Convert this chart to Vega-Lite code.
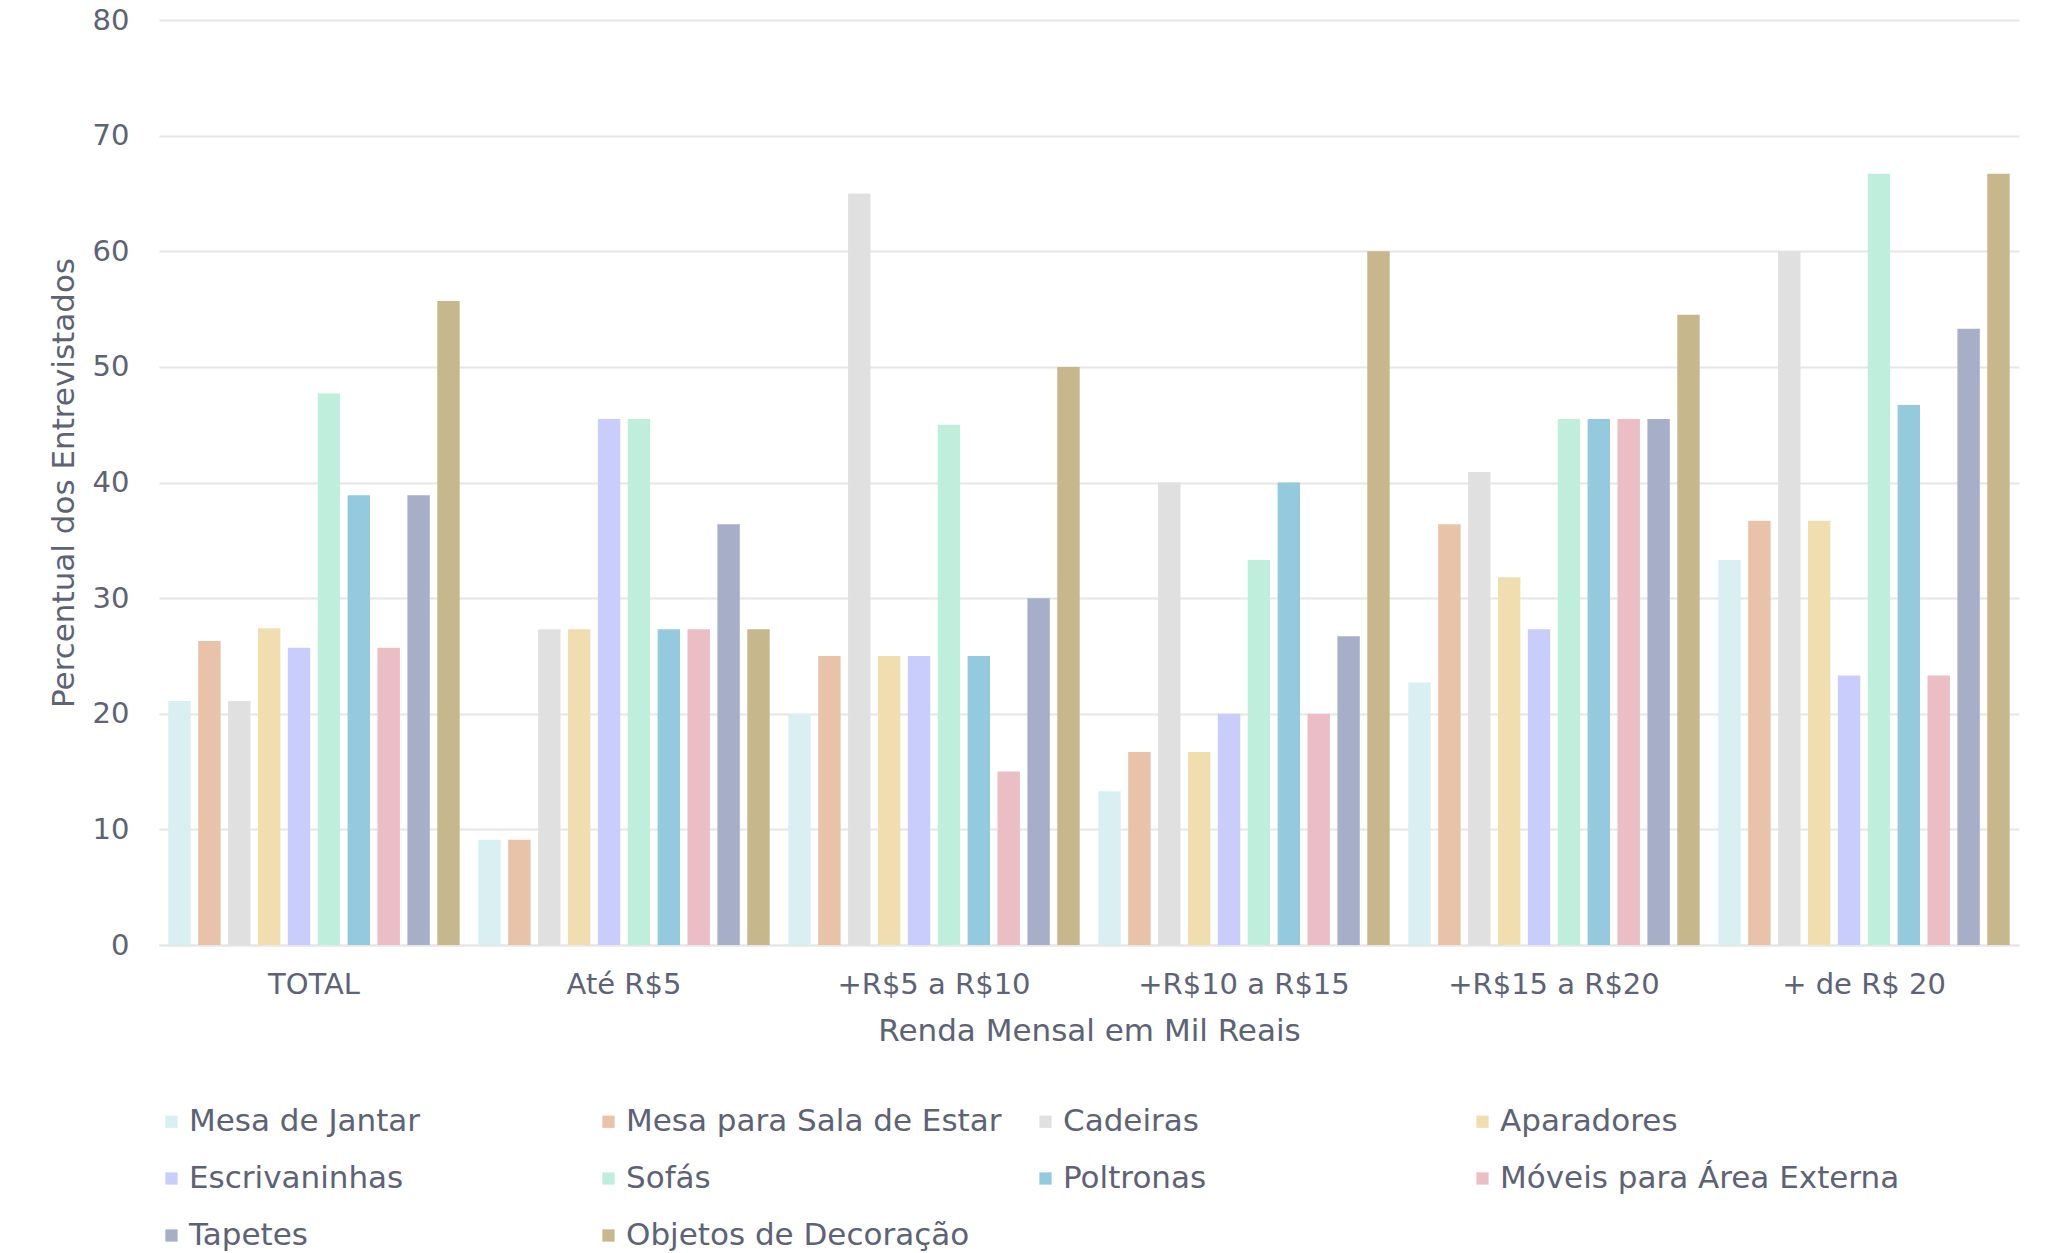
{
  "$schema": "https://vega.github.io/schema/vega-lite/v6.json",
  "autosize": "none",
  "width": 1860,
  "height": 925,
  "padding": {"left": 159, "top": 20, "right": 26, "bottom": 308},
  "background": "white",
  "config": {
    "font": "DejaVu Sans",
    "view": {"stroke": null},
    "axis": {"labelColor": "#5d6274", "titleColor": "#5d6274", "labelFont": "DejaVu Sans", "titleFont": "DejaVu Sans"},
    "legend": {"labelColor": "#5d6274", "labelFont": "DejaVu Sans"}
  },
  "data": {
    "values": [
      {"renda": "TOTAL", "item": "Mesa de Jantar", "valor": 21.1},
      {"renda": "TOTAL", "item": "Mesa para Sala de Estar", "valor": 26.3},
      {"renda": "TOTAL", "item": "Cadeiras", "valor": 21.1},
      {"renda": "TOTAL", "item": "Aparadores", "valor": 27.4},
      {"renda": "TOTAL", "item": "Escrivaninhas", "valor": 25.7},
      {"renda": "TOTAL", "item": "Sofás", "valor": 47.7},
      {"renda": "TOTAL", "item": "Poltronas", "valor": 38.9},
      {"renda": "TOTAL", "item": "Móveis para Área Externa", "valor": 25.7},
      {"renda": "TOTAL", "item": "Tapetes", "valor": 38.9},
      {"renda": "TOTAL", "item": "Objetos de Decoração", "valor": 55.7},
      {"renda": "Até R$5", "item": "Mesa de Jantar", "valor": 9.1},
      {"renda": "Até R$5", "item": "Mesa para Sala de Estar", "valor": 9.1},
      {"renda": "Até R$5", "item": "Cadeiras", "valor": 27.3},
      {"renda": "Até R$5", "item": "Aparadores", "valor": 27.3},
      {"renda": "Até R$5", "item": "Escrivaninhas", "valor": 45.5},
      {"renda": "Até R$5", "item": "Sofás", "valor": 45.5},
      {"renda": "Até R$5", "item": "Poltronas", "valor": 27.3},
      {"renda": "Até R$5", "item": "Móveis para Área Externa", "valor": 27.3},
      {"renda": "Até R$5", "item": "Tapetes", "valor": 36.4},
      {"renda": "Até R$5", "item": "Objetos de Decoração", "valor": 27.3},
      {"renda": "+R$5 a R$10", "item": "Mesa de Jantar", "valor": 20},
      {"renda": "+R$5 a R$10", "item": "Mesa para Sala de Estar", "valor": 25},
      {"renda": "+R$5 a R$10", "item": "Cadeiras", "valor": 65},
      {"renda": "+R$5 a R$10", "item": "Aparadores", "valor": 25},
      {"renda": "+R$5 a R$10", "item": "Escrivaninhas", "valor": 25},
      {"renda": "+R$5 a R$10", "item": "Sofás", "valor": 45},
      {"renda": "+R$5 a R$10", "item": "Poltronas", "valor": 25},
      {"renda": "+R$5 a R$10", "item": "Móveis para Área Externa", "valor": 15},
      {"renda": "+R$5 a R$10", "item": "Tapetes", "valor": 30},
      {"renda": "+R$5 a R$10", "item": "Objetos de Decoração", "valor": 50},
      {"renda": "+R$10 a R$15", "item": "Mesa de Jantar", "valor": 13.3},
      {"renda": "+R$10 a R$15", "item": "Mesa para Sala de Estar", "valor": 16.7},
      {"renda": "+R$10 a R$15", "item": "Cadeiras", "valor": 40},
      {"renda": "+R$10 a R$15", "item": "Aparadores", "valor": 16.7},
      {"renda": "+R$10 a R$15", "item": "Escrivaninhas", "valor": 20},
      {"renda": "+R$10 a R$15", "item": "Sofás", "valor": 33.3},
      {"renda": "+R$10 a R$15", "item": "Poltronas", "valor": 40},
      {"renda": "+R$10 a R$15", "item": "Móveis para Área Externa", "valor": 20},
      {"renda": "+R$10 a R$15", "item": "Tapetes", "valor": 26.7},
      {"renda": "+R$10 a R$15", "item": "Objetos de Decoração", "valor": 60},
      {"renda": "+R$15 a R$20", "item": "Mesa de Jantar", "valor": 22.7},
      {"renda": "+R$15 a R$20", "item": "Mesa para Sala de Estar", "valor": 36.4},
      {"renda": "+R$15 a R$20", "item": "Cadeiras", "valor": 40.9},
      {"renda": "+R$15 a R$20", "item": "Aparadores", "valor": 31.8},
      {"renda": "+R$15 a R$20", "item": "Escrivaninhas", "valor": 27.3},
      {"renda": "+R$15 a R$20", "item": "Sofás", "valor": 45.5},
      {"renda": "+R$15 a R$20", "item": "Poltronas", "valor": 45.5},
      {"renda": "+R$15 a R$20", "item": "Móveis para Área Externa", "valor": 45.5},
      {"renda": "+R$15 a R$20", "item": "Tapetes", "valor": 45.5},
      {"renda": "+R$15 a R$20", "item": "Objetos de Decoração", "valor": 54.5},
      {"renda": "+ de R$ 20", "item": "Mesa de Jantar", "valor": 33.3},
      {"renda": "+ de R$ 20", "item": "Mesa para Sala de Estar", "valor": 36.7},
      {"renda": "+ de R$ 20", "item": "Cadeiras", "valor": 60},
      {"renda": "+ de R$ 20", "item": "Aparadores", "valor": 36.7},
      {"renda": "+ de R$ 20", "item": "Escrivaninhas", "valor": 23.3},
      {"renda": "+ de R$ 20", "item": "Sofás", "valor": 66.7},
      {"renda": "+ de R$ 20", "item": "Poltronas", "valor": 46.7},
      {"renda": "+ de R$ 20", "item": "Móveis para Área Externa", "valor": 23.3},
      {"renda": "+ de R$ 20", "item": "Tapetes", "valor": 53.3},
      {"renda": "+ de R$ 20", "item": "Objetos de Decoração", "valor": 66.7}
    ]
  },
  "mark": {"type": "bar"},
  "encoding": {
    "x": {
      "field": "renda",
      "type": "nominal",
      "sort": ["TOTAL", "Até R$5", "+R$5 a R$10", "+R$10 a R$15", "+R$15 a R$20", "+ de R$ 20"],
      "scale": {"paddingInner": 0.06, "paddingOuter": 0.03},
      "axis": {
        "title": "Renda Mensal em Mil Reais",
        "labelAngle": 0,
        "labelFontSize": 29,
        "labelLimit": 400,
        "titleFontSize": 31,
        "titleFontWeight": "normal",
        "labelPadding": 25,
        "titlePadding": 17,
        "ticks": false,
        "domain": true,
        "domainColor": "#e6e6e6",
        "domainWidth": 2
      }
    },
    "xOffset": {
      "field": "item",
      "type": "nominal",
      "sort": ["Mesa de Jantar", "Mesa para Sala de Estar", "Cadeiras", "Aparadores", "Escrivaninhas", "Sofás", "Poltronas", "Móveis para Área Externa", "Tapetes", "Objetos de Decoração"],
      "scale": {"paddingInner": 0.25, "paddingOuter": 0}
    },
    "y": {
      "field": "valor",
      "type": "quantitative",
      "scale": {"domain": [0, 80]},
      "axis": {
        "title": "Percentual dos Entrevistados",
        "values": [0, 10, 20, 30, 40, 50, 60, 70, 80],
        "labelFontSize": 29,
        "titleFontSize": 31,
        "titleFontWeight": "normal",
        "labelPadding": 30,
        "titlePadding": 12,
        "ticks": false,
        "domain": false,
        "gridColor": "#e6e6e6",
        "gridWidth": 2
      }
    },
    "color": {
      "field": "item",
      "type": "nominal",
      "scale": {
        "domain": ["Mesa de Jantar", "Mesa para Sala de Estar", "Cadeiras", "Aparadores", "Escrivaninhas", "Sofás", "Poltronas", "Móveis para Área Externa", "Tapetes", "Objetos de Decoração"],
        "range": ["#d9eff2", "#e8c2a9", "#e0e0e0", "#f0deb0", "#c9cdfb", "#bfeedc", "#94c9de", "#ebbec6", "#a7aec8", "#c7b78c"]
      },
      "legend": {
        "title": null,
        "orient": "none",
        "legendX": -3,
        "legendY": 1086,
        "direction": "horizontal",
        "columns": 4,
        "gridAlign": "all",
        "symbolType": "square",
        "symbolSize": 150,
        "symbolStrokeWidth": 0,
        "labelFontSize": 31,
        "labelOffset": 2,
        "columnPadding": 4,
        "rowPadding": 25,
        "labelLimit": 600
      }
    }
  }
}
